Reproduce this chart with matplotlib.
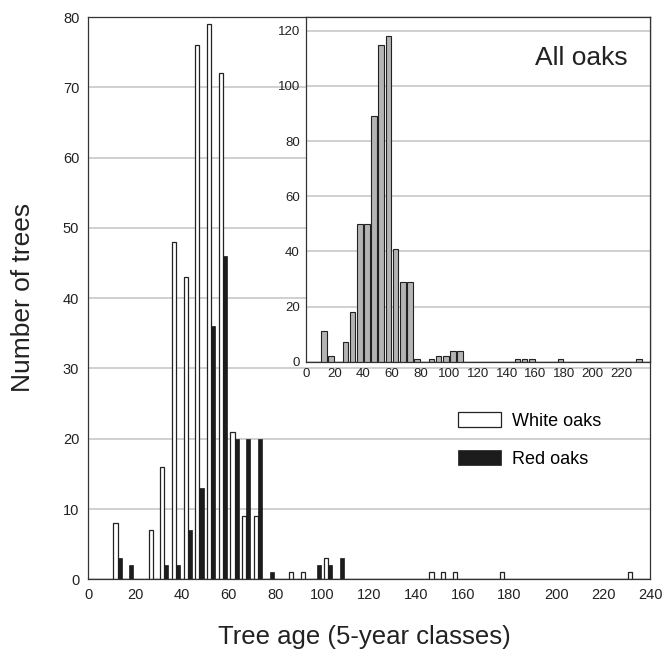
import numpy as np
import matplotlib
matplotlib.use("Agg")
import matplotlib.pyplot as plt

plt.rc('font', family='Liberation Sans')

age_class = [12.5, 17.5, 27.5, 32.5, 37.5, 42.5, 47.5, 52.5, 57.5, 62.5, 67.5, 72.5,
             77.5, 87.5, 92.5, 97.5, 102.5, 107.5, 147.5, 152.5, 157.5, 177.5, 232.5]
white_oaks = [8, 0, 7, 16, 48, 43, 76, 79, 72, 21, 9, 9,
              0, 1, 1, 0, 3, 0, 1, 1, 1, 1, 1]
red_oaks = [3, 2, 0, 2, 2, 7, 13, 36, 46, 20, 20, 20,
            1, 0, 0, 2, 2, 3, 0, 0, 0, 0, 0]
all_oaks = [11, 2, 7, 18, 50, 50, 89, 115, 118, 41, 29, 29,
            1, 1, 2, 2, 4, 4, 1, 1, 1, 1, 1]

x = np.array(age_class)
w = np.array(white_oaks)
r = np.array(red_oaks)
a = np.array(all_oaks)

dark = '#222222'
grid = '#c4c4c4'

fig = plt.figure(figsize=(6.62, 6.51), dpi=100)
ax = fig.add_axes([0.1334, 0.1101, 0.8485, 0.8637])

bw = 1.75
hw = ax.bar(x[w > 0] - bw / 2, w[w > 0], width=bw, color='white', edgecolor=dark,
            linewidth=0.9, label='White oaks')
hr = ax.bar(x[r > 0] + bw / 2, r[r > 0], width=bw, color='#1c1c1c', edgecolor='#1c1c1c',
            linewidth=0.5, label='Red oaks')

ax.set_xlim(0, 240)
ax.set_ylim(0, 80)
ax.set_xticks(np.arange(0, 241, 20))
ax.set_yticks(np.arange(0, 81, 10))
ax.tick_params(length=0, labelsize=10.5, colors='#222222')
ax.tick_params(axis='y', pad=6.5)
ax.tick_params(axis='x', pad=6)
ax.yaxis.grid(True, color=grid, linewidth=1.1)
ax.set_axisbelow(True)
for s in ax.spines.values():
    s.set_color('#333333')
    s.set_linewidth(0.9)

ax.legend(handles=[hw, hr], loc='upper left', bbox_to_anchor=(0.658, 0.298),
          frameon=False, fontsize=13, handlelength=2.4, handleheight=0.95,
          handletextpad=0.6, labelspacing=1.1, borderpad=0, borderaxespad=0)

fig.text(0.034, 0.543, 'Number of trees', rotation=90, ha='center', va='center',
         fontsize=19, color='#222222')
fig.text(0.550, 0.011, 'Tree age (5-year classes)', ha='center', va='baseline',
         fontsize=18.5, color='#222222')

# inset with all oaks together
ins = fig.add_axes([0.4622, 0.4444, 0.5196, 0.5295])
ins.set_facecolor('white')
ins.bar(x, a, width=3.9, color='#b4b4b4', edgecolor=dark, linewidth=0.8)
ins.set_xlim(0, 240)
ins.set_ylim(0, 125)
ins.set_xticks(np.arange(0, 221, 20))
ins.set_yticks(np.arange(0, 121, 20))
ins.tick_params(length=0, labelsize=9.5, colors='#222222', pad=4.5)
ins.yaxis.grid(True, color=grid, linewidth=1.1)
ins.set_axisbelow(True)
for s in ins.spines.values():
    s.set_color('#333333')
    s.set_linewidth(0.9)
ins.text(0.936, 0.861, 'All oaks', transform=ins.transAxes, ha='right', va='baseline',
         fontsize=19, color='#222222')

plt.savefig('out.png', dpi=100)
